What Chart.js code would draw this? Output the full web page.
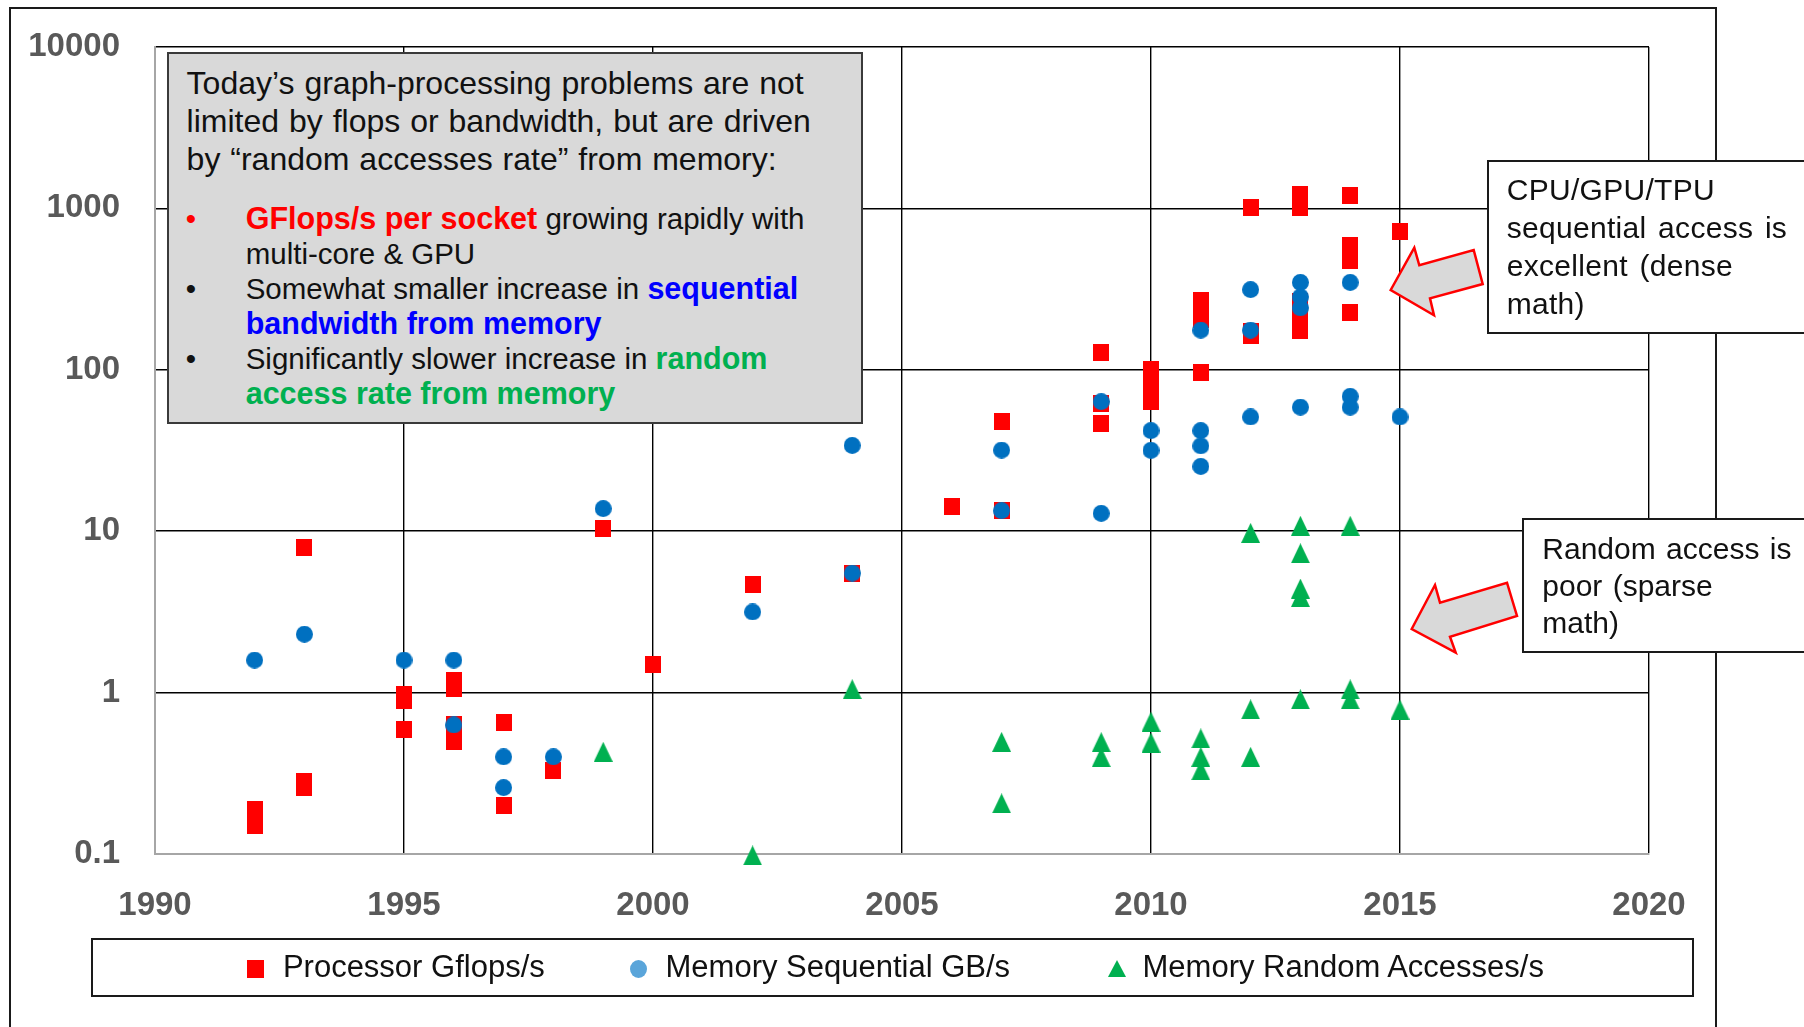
<!DOCTYPE html>
<html>
<head>
<meta charset="utf-8">
<script src="https://cdn.jsdelivr.net/npm/chart.js"></script>
<style>
  html, body { margin: 0; padding: 0; background: #fff; overflow: hidden; }
  #wrap { position: relative; width: 1804px; height: 1027px; overflow: hidden; font-family: "Liberation Sans", Arial, sans-serif; color: #111; }
  #myChart { position: absolute; left: 0; top: 0; }
  .frame { position: absolute; left: 9px; top: 7px; width: 1708px; height: 1100px; border: 2px solid #1a1a1a; box-sizing: border-box; }
  .box { position: absolute; box-sizing: border-box; white-space: nowrap; }
  #note { left: 167px; top: 52px; width: 696px; height: 372px; background: #d9d9d9; border: 2px solid #3a3a3a; }
  #note .para { position: absolute; left: 17.6px; top: 9.5px; line-height: 38px; font-size: 32px; word-spacing: 1px; }
  #note .bullets { position: absolute; left: 76.7px; top: 147px; line-height: 35px; font-size: 29.5px; }
  #note .item { position: relative; }
  #note .dot { position: absolute; left: -60px; top: 0; }
  .red { color: #ff0000; font-weight: bold; font-size: 30.5px; }
  .blue { color: #0000ff; font-weight: bold; font-size: 30.5px; }
  .green { color: #00b050; font-weight: bold; font-size: 30.5px; }
  .callout { background: #fff; border: 2px solid #1a1a1a; font-size: 30px; }
  #call1 { left: 1487px; top: 160px; width: 400px; height: 174px; }
  #call1 .txt { position: absolute; left: 17.7px; top: 9.3px; line-height: 38px; letter-spacing: 0.3px; word-spacing: 3px; }
  #call2 { left: 1522px; top: 518px; width: 400px; height: 135px; }
  #call2 .txt { position: absolute; left: 18.3px; top: 10.4px; line-height: 37px; word-spacing: 2px; }
  #arrows { position: absolute; left: 0; top: 0; }
  #legend { left: 91px; top: 938px; width: 1603px; height: 59px; border: 2.5px solid #1a1a1a; background: #fff; font-size: 31px; }
  .lg-text { position: absolute; top: 8px; line-height: 38px; }
  .lg-icon { position: absolute; }
</style>
</head>
<body>
<div id="wrap">
  <canvas id="myChart" width="1804" height="1027"></canvas>
  <div class="frame"></div>

  <div id="note" class="box">
    <div class="para">Today’s graph-processing problems are not<br>limited by flops or bandwidth, but are driven<br>by “random accesses rate” from memory:</div>
    <div class="bullets">
      <div class="item"><span class="dot" style="color:#ff0000">•</span><span class="red">GFlops/s per socket</span> growing rapidly with<br>multi-core &amp; GPU</div>
      <div class="item"><span class="dot">•</span>Somewhat smaller increase in <span class="blue">sequential</span><br><span class="blue">bandwidth from memory</span></div>
      <div class="item"><span class="dot">•</span>Significantly slower increase in <span class="green">random</span><br><span class="green">access rate from memory</span></div>
    </div>
  </div>

  <svg id="arrows" width="1804" height="1027">
    <polygon points="1390.7,290 1414.3,247.7 1419.3,265.3 1473.7,250 1482.7,284 1430,298.3 1434,315.3" fill="#d9d9d9" stroke="#ff0000" stroke-width="2.5"/>
    <polygon points="1411.7,629 1435,585 1440,602.7 1507,582.7 1517,616 1450,636.7 1455.7,652.7" fill="#d9d9d9" stroke="#ff0000" stroke-width="2.5"/>
  </svg>

  <div id="call1" class="box callout"><div class="txt">CPU/GPU/TPU<br>sequential access is<br>excellent (dense<br>math)</div></div>
  <div id="call2" class="box callout"><div class="txt">Random access is<br>poor (sparse<br>math)</div></div>

  <div id="legend" class="box"></div>
</div>

<script>
// data (year, value)
const gflopsYears = [1992,1992,1993,1993,1993,1995,1995,1995,1996,1996,1996,1996,1996,1997,1997,1998,1999,2000,2002,2004,2006,2007,2007,2009,2009,2009,2010,2010,2010,2011,2011,2011,2011,2012,2012,2012,2013,2013,2013,2013,2013,2013,2014,2014,2014,2014,2014,2015];
const gflopsValues = [0.19,0.15,7.9,0.28,0.26,0.98,0.89,0.59,1.18,1.06,0.63,0.56,0.495,0.65,0.2,0.33,10.4,1.49,4.7,5.5,14.2,48,13.5,128,62,46.6,100,80,64,270,235,205,96,1010,172,163,1220,1110,1010,265,215,175,1200,590,530,475,228,720];

const seqYears = [1992,1993,1995,1996,1996,1997,1997,1998,1999,2002,2004,2004,2007,2007,2009,2009,2010,2010,2011,2011,2011,2011,2012,2012,2012,2013,2013,2013,2013,2014,2014,2014,2015];
const seqValues = [1.59,2.3,1.59,1.59,0.63,0.40,0.258,0.40,13.8,3.16,34,5.5,31.8,13.4,63.5,12.9,42,31.7,176,42,33.8,25.2,314,176,51,348,283,242,58.7,348,68.5,58.7,51];

const randYears = [1999,2002,2004,2007,2007,2009,2009,2010,2010,2011,2011,2011,2012,2012,2012,2013,2013,2013,2013,2013,2014,2014,2014,2015];
const randValues = [0.43,0.098,1.05,0.495,0.206,0.493,0.398,0.66,0.49,0.52,0.40,0.33,9.76,0.787,0.40,10.8,7.3,4.41,3.91,0.908,10.8,1.047,0.908,0.785];

const seriesNames = ['Processor Gflops/s', 'Memory Sequential GB/s', 'Memory Random Accesses/s'];
const seriesColors = ['#ff0000', '#0070c0', '#00b050'];
const legendColors = ['#ff0000', '#5aa5da', '#00b050'];

const xTicks = [1990, 1995, 2000, 2005, 2010, 2015, 2020];
const yTicks = [0.1, 1, 10, 100, 1000, 10000];
const yTickLabels = ['0.1', '1', '10', '100', '1000', '10000'];

function makeMarker(w, h, color, shape) {
  const c = document.createElement('canvas');
  c.width = w;
  c.height = h;
  const g = c.getContext('2d');
  g.fillStyle = color;
  g.beginPath();
  if (shape == 'rect') {
    g.rect(0, 0, w, h);
  } else if (shape == 'circle') {
    g.ellipse(w / 2, h / 2, w / 2, h / 2, 0, 0, Math.PI * 2);
  } else {
    g.moveTo(w / 2, 0);
    g.lineTo(w, h);
    g.lineTo(0, h);
    g.closePath();
  }
  g.fill();
  return c;
}

function toPoints(xs, ys) {
  return xs.map((x, i) => ({x: x, y: ys[i]}));
}

const markers = [
  makeMarker(16, 17, seriesColors[0], 'rect'),
  makeMarker(17, 17, seriesColors[1], 'circle'),
  makeMarker(19, 20, seriesColors[2], 'triangle')
];

const tickFont = {family: 'Liberation Sans', size: 33, weight: 'bold'};

const ctx = document.getElementById('myChart');

new Chart(ctx, {
  type: 'scatter',
  data: {
    datasets: [
      {label: seriesNames[0], data: toPoints(gflopsYears, gflopsValues), pointStyle: markers[0], order: 3},
      {label: seriesNames[1], data: toPoints(seqYears, seqValues), pointStyle: markers[1], order: 2},
      {label: seriesNames[2], data: toPoints(randYears, randValues), pointStyle: markers[2], order: 1}
    ].map((d, i) => Object.assign(d, {
      backgroundColor: seriesColors[i],
      borderColor: seriesColors[i],
      pointRadius: 10,
      pointHoverRadius: 10,
      borderWidth: 0,
      clip: false
    }))
  },
  options: {
    responsive: false,
    animation: false,
    events: [],
    layout: {padding: {top: 47, right: 155, bottom: 0, left: 0}},
    plugins: {
      legend: {display: false},
      tooltip: {enabled: false}
    },
    scales: {
      x: {
        type: 'linear',
        min: xTicks[0],
        max: xTicks[xTicks.length - 1],
        afterFit: (scale) => { scale.height = 173; },
        afterBuildTicks: (scale) => { scale.ticks = xTicks.map(v => ({value: v})); },
        ticks: {padding: 32, font: tickFont, color: '#595959', callback: (v) => String(v)},
        grid: {color: '#000', lineWidth: 1.4, drawTicks: false},
        border: {color: '#a6a6a6', width: 2}
      },
      y: {
        type: 'logarithmic',
        min: yTicks[0],
        max: yTicks[yTicks.length - 1],
        // fixed width, and no extra top/bottom room for the end labels
        afterFit: (scale) => { scale.width = 155; scale.paddingTop = 0; scale.paddingBottom = 0; },
        afterBuildTicks: (scale) => { scale.ticks = yTicks.map(v => ({value: v})); },
        ticks: {padding: 35, font: tickFont, color: '#595959', callback: (v, i) => yTickLabels[i]},
        grid: {color: '#000', lineWidth: 1.6, drawTicks: false},
        border: {color: '#a6a6a6', width: 2}
      }
    }
  }
});

// legend (html, outside the plot)
const legendIcons = [
  {left: 247, w: 17, h: 18, css: 'background:' + legendColors[0]},
  {left: 630, w: 17, h: 18, css: 'background:' + legendColors[1] + ';border-radius:50%'},
  {left: 1108, w: 18, h: 17, css: 'width:0;height:0;border-left:9px solid transparent;border-right:9px solid transparent;border-bottom:17px solid ' + legendColors[2]}
];
const legendTextLeft = [283.4, 666, 1143];
const legend = document.getElementById('legend');
seriesNames.forEach((name, i) => {
  const ic = legendIcons[i];
  const icon = document.createElement('div');
  icon.className = 'lg-icon';
  icon.style.cssText = 'width:' + ic.w + 'px;height:' + ic.h + 'px;' + ic.css;
  icon.style.left = (ic.left - 93.5) + 'px';
  icon.style.top = (969 - ic.h / 2 - 940.5) + 'px';
  legend.appendChild(icon);
  const t = document.createElement('div');
  t.className = 'lg-text';
  t.style.left = (legendTextLeft[i] - 93.5) + 'px';
  t.textContent = name;
  legend.appendChild(t);
});
</script>
</body>
</html>
